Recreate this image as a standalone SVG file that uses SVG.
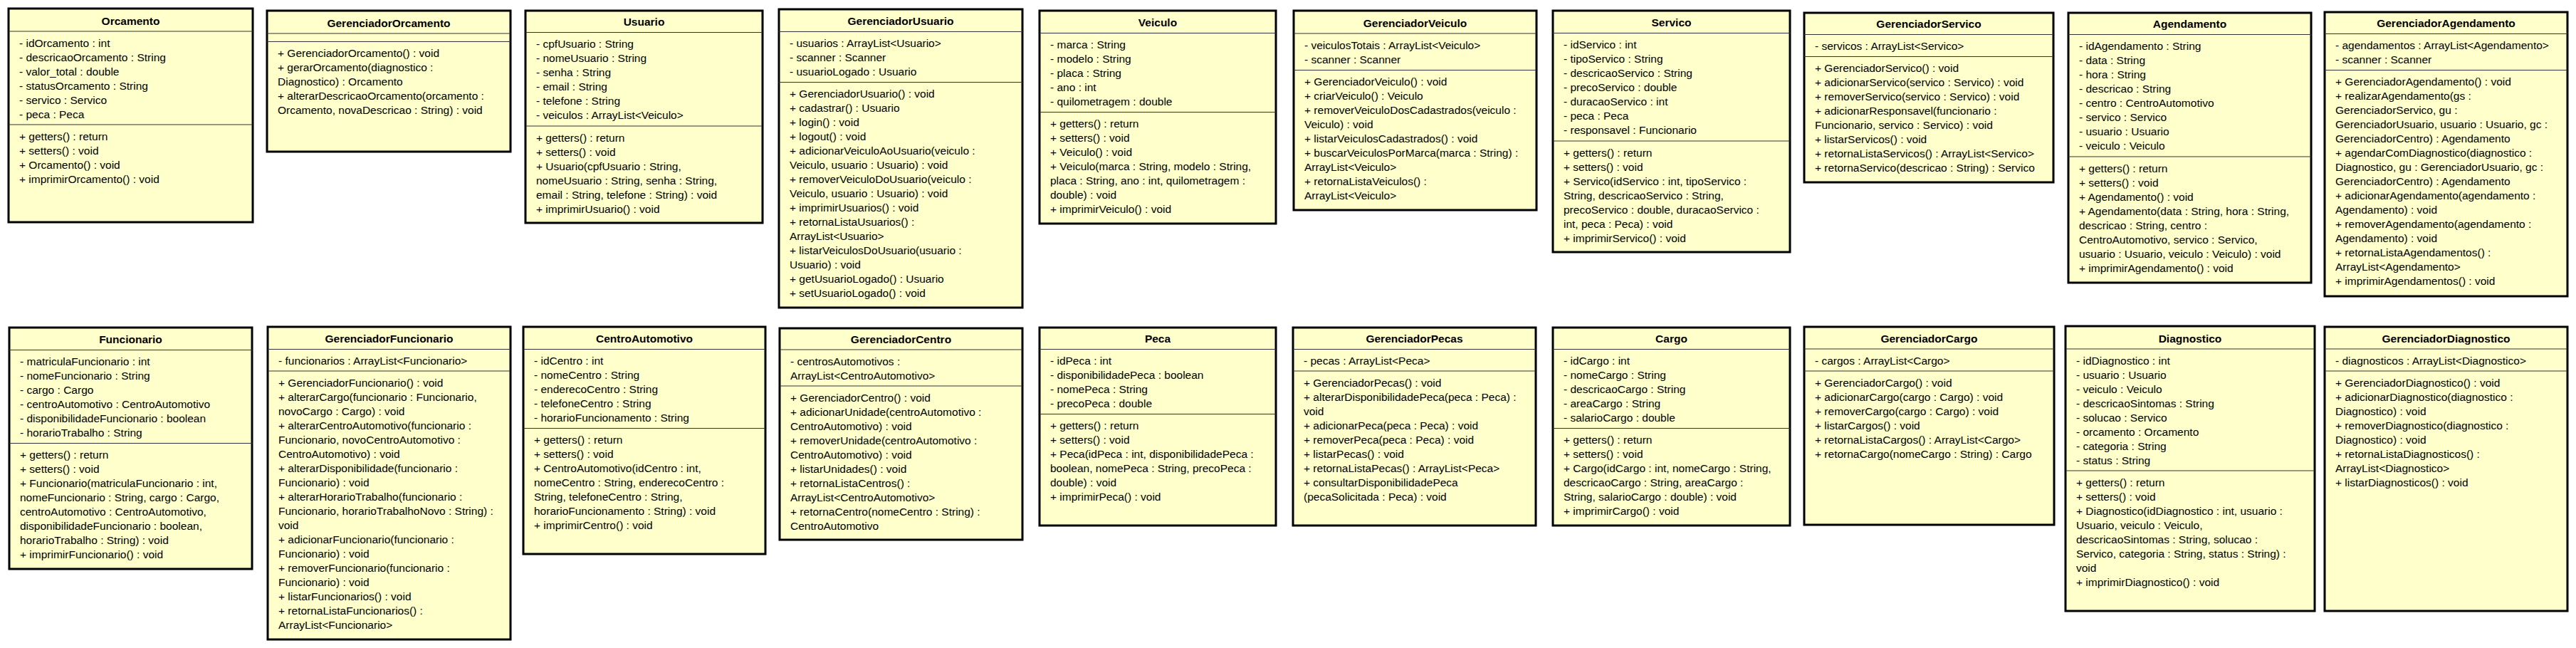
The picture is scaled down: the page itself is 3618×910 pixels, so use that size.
<svg xmlns="http://www.w3.org/2000/svg" width="3618" height="910" viewBox="0 0 3618 910">
<style>
.box{fill:#FFFFCC;stroke:#000;stroke-width:3}
.sep{stroke:#333;stroke-width:1}
text{font-family:"Liberation Sans",Arial,sans-serif;font-size:15.5px;fill:#000}
.h{font-weight:bold;text-anchor:middle}
</style>
<rect x="0" y="0" width="3618" height="910" fill="#FFFFFF"/>
<g id="connectors"></g>

<g id="Orcamento" transform="translate(12,0)">
<rect class="box" x="0" y="12" width="343" height="300"/>
<line class="sep" x1="0" y1="44" x2="343" y2="44"/><line class="sep" x1="0" y1="175" x2="343" y2="175"/>
<text class="h" x="171.5" y="34.5">Orcamento</text>
<text y="65.5"><tspan x="15">- idOrcamento : int</tspan><tspan x="15" dy="20">- descricaoOrcamento : String</tspan><tspan x="15" dy="20">- valor_total : double</tspan><tspan x="15" dy="20">- statusOrcamento : String</tspan><tspan x="15" dy="20">- servico : Servico</tspan><tspan x="15" dy="20">- peca : Peca</tspan></text>
<text y="196.5"><tspan x="15">+ getters() : return</tspan><tspan x="15" dy="20">+ setters() : void</tspan><tspan x="15" dy="20">+ Orcamento() : void</tspan><tspan x="15" dy="20">+ imprimirOrcamento() : void</tspan></text>
</g>

<g id="GerenciadorOrcamento" transform="translate(375,0)">
<rect class="box" x="0" y="15" width="342" height="198"/>
<line class="sep" x1="0" y1="47" x2="342" y2="47"/><line class="sep" x1="0" y1="58.5" x2="342" y2="58.5"/>
<text class="h" x="171" y="37.5">GerenciadorOrcamento</text>
<text y="80"><tspan x="15">+ GerenciadorOrcamento() : void</tspan><tspan x="15" dy="20">+ gerarOrcamento(diagnostico :</tspan><tspan x="15" dy="20">Diagnostico) : Orcamento</tspan><tspan x="15" dy="20">+ alterarDescricaoOrcamento(orcamento :</tspan><tspan x="15" dy="20">Orcamento, novaDescricao : String) : void</tspan></text>
</g>

<g id="Usuario" transform="translate(738,0)">
<rect class="box" x="0" y="15" width="333" height="298"/>
<line class="sep" x1="0" y1="45.5" x2="333" y2="45.5"/><line class="sep" x1="0" y1="177" x2="333" y2="177"/>
<text class="h" x="166.5" y="36">Usuario</text>
<text y="67"><tspan x="15">- cpfUsuario : String</tspan><tspan x="15" dy="20">- nomeUsuario : String</tspan><tspan x="15" dy="20">- senha : String</tspan><tspan x="15" dy="20">- email : String</tspan><tspan x="15" dy="20">- telefone : String</tspan><tspan x="15" dy="20">- veiculos : ArrayList&lt;Veiculo&gt;</tspan></text>
<text y="198.5"><tspan x="15">+ getters() : return</tspan><tspan x="15" dy="20">+ setters() : void</tspan><tspan x="15" dy="20">+ Usuario(cpfUsuario : String,</tspan><tspan x="15" dy="20">nomeUsuario : String, senha : String,</tspan><tspan x="15" dy="20">email : String, telefone : String) : void</tspan><tspan x="15" dy="20">+ imprimirUsuario() : void</tspan></text>
</g>

<g id="GerenciadorUsuario" transform="translate(1094,0)">
<rect class="box" x="0" y="13" width="342" height="419"/>
<line class="sep" x1="0" y1="44.5" x2="342" y2="44.5"/><line class="sep" x1="0" y1="115.5" x2="342" y2="115.5"/>
<text class="h" x="171" y="35">GerenciadorUsuario</text>
<text y="66"><tspan x="15">- usuarios : ArrayList&lt;Usuario&gt;</tspan><tspan x="15" dy="20">- scanner : Scanner</tspan><tspan x="15" dy="20">- usuarioLogado : Usuario</tspan></text>
<text y="137"><tspan x="15">+ GerenciadorUsuario() : void</tspan><tspan x="15" dy="20">+ cadastrar() : Usuario</tspan><tspan x="15" dy="20">+ login() : void</tspan><tspan x="15" dy="20">+ logout() : void</tspan><tspan x="15" dy="20">+ adicionarVeiculoAoUsuario(veiculo :</tspan><tspan x="15" dy="20">Veiculo, usuario : Usuario) : void</tspan><tspan x="15" dy="20">+ removerVeiculoDoUsuario(veiculo :</tspan><tspan x="15" dy="20">Veiculo, usuario : Usuario) : void</tspan><tspan x="15" dy="20">+ imprimirUsuarios() : void</tspan><tspan x="15" dy="20">+ retornaListaUsuarios() :</tspan><tspan x="15" dy="20">ArrayList&lt;Usuario&gt;</tspan><tspan x="15" dy="20">+ listarVeiculosDoUsuario(usuario :</tspan><tspan x="15" dy="20">Usuario) : void</tspan><tspan x="15" dy="20">+ getUsuarioLogado() : Usuario</tspan><tspan x="15" dy="20">+ setUsuarioLogado() : void</tspan></text>
</g>

<g id="Veiculo" transform="translate(1460,0)">
<rect class="box" x="0" y="15" width="332" height="299"/>
<line class="sep" x1="0" y1="46.5" x2="332" y2="46.5"/><line class="sep" x1="0" y1="157.5" x2="332" y2="157.5"/>
<text class="h" x="166" y="37">Veiculo</text>
<text y="68"><tspan x="15">- marca : String</tspan><tspan x="15" dy="20">- modelo : String</tspan><tspan x="15" dy="20">- placa : String</tspan><tspan x="15" dy="20">- ano : int</tspan><tspan x="15" dy="20">- quilometragem : double</tspan></text>
<text y="179"><tspan x="15">+ getters() : return</tspan><tspan x="15" dy="20">+ setters() : void</tspan><tspan x="15" dy="20">+ Veiculo() : void</tspan><tspan x="15" dy="20">+ Veiculo(marca : String, modelo : String,</tspan><tspan x="15" dy="20">placa : String, ano : int, quilometragem :</tspan><tspan x="15" dy="20">double) : void</tspan><tspan x="15" dy="20">+ imprimirVeiculo() : void</tspan></text>
</g>

<g id="GerenciadorVeiculo" transform="translate(1817,0)">
<rect class="box" x="0" y="15" width="341" height="280"/>
<line class="sep" x1="0" y1="47" x2="341" y2="47"/><line class="sep" x1="0" y1="98.5" x2="341" y2="98.5"/>
<text class="h" x="170.5" y="37.5">GerenciadorVeiculo</text>
<text y="68.5"><tspan x="15">- veiculosTotais : ArrayList&lt;Veiculo&gt;</tspan><tspan x="15" dy="20">- scanner : Scanner</tspan></text>
<text y="120"><tspan x="15">+ GerenciadorVeiculo() : void</tspan><tspan x="15" dy="20">+ criarVeiculo() : Veiculo</tspan><tspan x="15" dy="20">+ removerVeiculoDosCadastrados(veiculo :</tspan><tspan x="15" dy="20">Veiculo) : void</tspan><tspan x="15" dy="20">+ listarVeiculosCadastrados() : void</tspan><tspan x="15" dy="20">+ buscarVeiculosPorMarca(marca : String) :</tspan><tspan x="15" dy="20">ArrayList&lt;Veiculo&gt;</tspan><tspan x="15" dy="20">+ retornaListaVeiculos() :</tspan><tspan x="15" dy="20">ArrayList&lt;Veiculo&gt;</tspan></text>
</g>

<g id="Servico" transform="translate(2181,0)">
<rect class="box" x="0" y="15" width="333" height="339"/>
<line class="sep" x1="0" y1="46.5" x2="333" y2="46.5"/><line class="sep" x1="0" y1="198" x2="333" y2="198"/>
<text class="h" x="166.5" y="37">Servico</text>
<text y="68"><tspan x="15">- idServico : int</tspan><tspan x="15" dy="20">- tipoServico : String</tspan><tspan x="15" dy="20">- descricaoServico : String</tspan><tspan x="15" dy="20">- precoServico : double</tspan><tspan x="15" dy="20">- duracaoServico : int</tspan><tspan x="15" dy="20">- peca : Peca</tspan><tspan x="15" dy="20">- responsavel : Funcionario</tspan></text>
<text y="219.5"><tspan x="15">+ getters() : return</tspan><tspan x="15" dy="20">+ setters() : void</tspan><tspan x="15" dy="20">+ Servico(idServico : int, tipoServico :</tspan><tspan x="15" dy="20">String, descricaoServico : String,</tspan><tspan x="15" dy="20">precoServico : double, duracaoServico :</tspan><tspan x="15" dy="20">int, peca : Peca) : void</tspan><tspan x="15" dy="20">+ imprimirServico() : void</tspan></text>
</g>

<g id="GerenciadorServico" transform="translate(2534,0)">
<rect class="box" x="0" y="18" width="350" height="238"/>
<line class="sep" x1="0" y1="48.5" x2="350" y2="48.5"/><line class="sep" x1="0" y1="79.5" x2="350" y2="79.5"/>
<text class="h" x="175" y="39">GerenciadorServico</text>
<text y="70"><tspan x="15">- servicos : ArrayList&lt;Servico&gt;</tspan></text>
<text y="101"><tspan x="15">+ GerenciadorServico() : void</tspan><tspan x="15" dy="20">+ adicionarServico(servico : Servico) : void</tspan><tspan x="15" dy="20">+ removerServico(servico : Servico) : void</tspan><tspan x="15" dy="20">+ adicionarResponsavel(funcionario :</tspan><tspan x="15" dy="20">Funcionario, servico : Servico) : void</tspan><tspan x="15" dy="20">+ listarServicos() : void</tspan><tspan x="15" dy="20">+ retornaListaServicos() : ArrayList&lt;Servico&gt;</tspan><tspan x="15" dy="20">+ retornaServico(descricao : String) : Servico</tspan></text>
</g>

<g id="Agendamento" transform="translate(2905,0)">
<rect class="box" x="0" y="18" width="341" height="379"/>
<line class="sep" x1="0" y1="48.5" x2="341" y2="48.5"/><line class="sep" x1="0" y1="220" x2="341" y2="220"/>
<text class="h" x="170.5" y="39">Agendamento</text>
<text y="70"><tspan x="15">- idAgendamento : String</tspan><tspan x="15" dy="20">- data : String</tspan><tspan x="15" dy="20">- hora : String</tspan><tspan x="15" dy="20">- descricao : String</tspan><tspan x="15" dy="20">- centro : CentroAutomotivo</tspan><tspan x="15" dy="20">- servico : Servico</tspan><tspan x="15" dy="20">- usuario : Usuario</tspan><tspan x="15" dy="20">- veiculo : Veiculo</tspan></text>
<text y="241.5"><tspan x="15">+ getters() : return</tspan><tspan x="15" dy="20">+ setters() : void</tspan><tspan x="15" dy="20">+ Agendamento() : void</tspan><tspan x="15" dy="20">+ Agendamento(data : String, hora : String,</tspan><tspan x="15" dy="20">descricao : String, centro :</tspan><tspan x="15" dy="20">CentroAutomotivo, servico : Servico,</tspan><tspan x="15" dy="20">usuario : Usuario, veiculo : Veiculo) : void</tspan><tspan x="15" dy="20">+ imprimirAgendamento() : void</tspan></text>
</g>

<g id="GerenciadorAgendamento" transform="translate(3265,0)">
<rect class="box" x="0" y="17" width="341" height="399"/>
<line class="sep" x1="0" y1="47.5" x2="341" y2="47.5"/><line class="sep" x1="0" y1="98.5" x2="341" y2="98.5"/>
<text class="h" x="170.5" y="38">GerenciadorAgendamento</text>
<text y="69"><tspan x="15">- agendamentos : ArrayList&lt;Agendamento&gt;</tspan><tspan x="15" dy="20">- scanner : Scanner</tspan></text>
<text y="120"><tspan x="15">+ GerenciadorAgendamento() : void</tspan><tspan x="15" dy="20">+ realizarAgendamento(gs :</tspan><tspan x="15" dy="20">GerenciadorServico, gu :</tspan><tspan x="15" dy="20">GerenciadorUsuario, usuario : Usuario, gc :</tspan><tspan x="15" dy="20">GerenciadorCentro) : Agendamento</tspan><tspan x="15" dy="20">+ agendarComDiagnostico(diagnostico :</tspan><tspan x="15" dy="20">Diagnostico, gu : GerenciadorUsuario, gc :</tspan><tspan x="15" dy="20">GerenciadorCentro) : Agendamento</tspan><tspan x="15" dy="20">+ adicionarAgendamento(agendamento :</tspan><tspan x="15" dy="20">Agendamento) : void</tspan><tspan x="15" dy="20">+ removerAgendamento(agendamento :</tspan><tspan x="15" dy="20">Agendamento) : void</tspan><tspan x="15" dy="20">+ retornaListaAgendamentos() :</tspan><tspan x="15" dy="20">ArrayList&lt;Agendamento&gt;</tspan><tspan x="15" dy="20">+ imprimirAgendamentos() : void</tspan></text>
</g>

<g id="Funcionario" transform="translate(13,0)">
<rect class="box" x="0" y="460" width="341" height="339"/>
<line class="sep" x1="0" y1="491.5" x2="341" y2="491.5"/><line class="sep" x1="0" y1="622.5" x2="341" y2="622.5"/>
<text class="h" x="170.5" y="482">Funcionario</text>
<text y="513"><tspan x="15">- matriculaFuncionario : int</tspan><tspan x="15" dy="20">- nomeFuncionario : String</tspan><tspan x="15" dy="20">- cargo : Cargo</tspan><tspan x="15" dy="20">- centroAutomotivo : CentroAutomotivo</tspan><tspan x="15" dy="20">- disponibilidadeFuncionario : boolean</tspan><tspan x="15" dy="20">- horarioTrabalho : String</tspan></text>
<text y="644"><tspan x="15">+ getters() : return</tspan><tspan x="15" dy="20">+ setters() : void</tspan><tspan x="15" dy="20">+ Funcionario(matriculaFuncionario : int,</tspan><tspan x="15" dy="20">nomeFuncionario : String, cargo : Cargo,</tspan><tspan x="15" dy="20">centroAutomotivo : CentroAutomotivo,</tspan><tspan x="15" dy="20">disponibilidadeFuncionario : boolean,</tspan><tspan x="15" dy="20">horarioTrabalho : String) : void</tspan><tspan x="15" dy="20">+ imprimirFuncionario() : void</tspan></text>
</g>

<g id="GerenciadorFuncionario" transform="translate(376,0)">
<rect class="box" x="0" y="459" width="341" height="439"/>
<line class="sep" x1="0" y1="490.5" x2="341" y2="490.5"/><line class="sep" x1="0" y1="521" x2="341" y2="521"/>
<text class="h" x="170.5" y="481">GerenciadorFuncionario</text>
<text y="512"><tspan x="15">- funcionarios : ArrayList&lt;Funcionario&gt;</tspan></text>
<text y="542.5"><tspan x="15">+ GerenciadorFuncionario() : void</tspan><tspan x="15" dy="20">+ alterarCargo(funcionario : Funcionario,</tspan><tspan x="15" dy="20">novoCargo : Cargo) : void</tspan><tspan x="15" dy="20">+ alterarCentroAutomotivo(funcionario :</tspan><tspan x="15" dy="20">Funcionario, novoCentroAutomotivo :</tspan><tspan x="15" dy="20">CentroAutomotivo) : void</tspan><tspan x="15" dy="20">+ alterarDisponibilidade(funcionario :</tspan><tspan x="15" dy="20">Funcionario) : void</tspan><tspan x="15" dy="20">+ alterarHorarioTrabalho(funcionario :</tspan><tspan x="15" dy="20">Funcionario, horarioTrabalhoNovo : String) :</tspan><tspan x="15" dy="20">void</tspan><tspan x="15" dy="20">+ adicionarFuncionario(funcionario :</tspan><tspan x="15" dy="20">Funcionario) : void</tspan><tspan x="15" dy="20">+ removerFuncionario(funcionario :</tspan><tspan x="15" dy="20">Funcionario) : void</tspan><tspan x="15" dy="20">+ listarFuncionarios() : void</tspan><tspan x="15" dy="20">+ retornaListaFuncionarios() :</tspan><tspan x="15" dy="20">ArrayList&lt;Funcionario&gt;</tspan></text>
</g>

<g id="CentroAutomotivo" transform="translate(735,0)">
<rect class="box" x="0" y="459" width="340" height="319"/>
<line class="sep" x1="0" y1="490.5" x2="340" y2="490.5"/><line class="sep" x1="0" y1="601.5" x2="340" y2="601.5"/>
<text class="h" x="170" y="481">CentroAutomotivo</text>
<text y="512"><tspan x="15">- idCentro : int</tspan><tspan x="15" dy="20">- nomeCentro : String</tspan><tspan x="15" dy="20">- enderecoCentro : String</tspan><tspan x="15" dy="20">- telefoneCentro : String</tspan><tspan x="15" dy="20">- horarioFuncionamento : String</tspan></text>
<text y="623"><tspan x="15">+ getters() : return</tspan><tspan x="15" dy="20">+ setters() : void</tspan><tspan x="15" dy="20">+ CentroAutomotivo(idCentro : int,</tspan><tspan x="15" dy="20">nomeCentro : String, enderecoCentro :</tspan><tspan x="15" dy="20">String, telefoneCentro : String,</tspan><tspan x="15" dy="20">horarioFuncionamento : String) : void</tspan><tspan x="15" dy="20">+ imprimirCentro() : void</tspan></text>
</g>

<g id="GerenciadorCentro" transform="translate(1095,0)">
<rect class="box" x="0" y="461" width="341" height="297"/>
<line class="sep" x1="0" y1="491" x2="341" y2="491"/><line class="sep" x1="0" y1="542" x2="341" y2="542"/>
<text class="h" x="170.5" y="481.5">GerenciadorCentro</text>
<text y="512.5"><tspan x="15">- centrosAutomotivos :</tspan><tspan x="15" dy="20">ArrayList&lt;CentroAutomotivo&gt;</tspan></text>
<text y="563.5"><tspan x="15">+ GerenciadorCentro() : void</tspan><tspan x="15" dy="20">+ adicionarUnidade(centroAutomotivo :</tspan><tspan x="15" dy="20">CentroAutomotivo) : void</tspan><tspan x="15" dy="20">+ removerUnidade(centroAutomotivo :</tspan><tspan x="15" dy="20">CentroAutomotivo) : void</tspan><tspan x="15" dy="20">+ listarUnidades() : void</tspan><tspan x="15" dy="20">+ retornaListaCentros() :</tspan><tspan x="15" dy="20">ArrayList&lt;CentroAutomotivo&gt;</tspan><tspan x="15" dy="20">+ retornaCentro(nomeCentro : String) :</tspan><tspan x="15" dy="20">CentroAutomotivo</tspan></text>
</g>

<g id="Peca" transform="translate(1460,0)">
<rect class="box" x="0" y="460" width="332" height="278"/>
<line class="sep" x1="0" y1="490.5" x2="332" y2="490.5"/><line class="sep" x1="0" y1="581.5" x2="332" y2="581.5"/>
<text class="h" x="166" y="481">Peca</text>
<text y="512"><tspan x="15">- idPeca : int</tspan><tspan x="15" dy="20">- disponibilidadePeca : boolean</tspan><tspan x="15" dy="20">- nomePeca : String</tspan><tspan x="15" dy="20">- precoPeca : double</tspan></text>
<text y="603"><tspan x="15">+ getters() : return</tspan><tspan x="15" dy="20">+ setters() : void</tspan><tspan x="15" dy="20">+ Peca(idPeca : int, disponibilidadePeca :</tspan><tspan x="15" dy="20">boolean, nomePeca : String, precoPeca :</tspan><tspan x="15" dy="20">double) : void</tspan><tspan x="15" dy="20">+ imprimirPeca() : void</tspan></text>
</g>

<g id="GerenciadorPecas" transform="translate(1816,0)">
<rect class="box" x="0" y="460" width="341" height="278"/>
<line class="sep" x1="0" y1="490.5" x2="341" y2="490.5"/><line class="sep" x1="0" y1="521" x2="341" y2="521"/>
<text class="h" x="170.5" y="481">GerenciadorPecas</text>
<text y="512"><tspan x="15">- pecas : ArrayList&lt;Peca&gt;</tspan></text>
<text y="542.5"><tspan x="15">+ GerenciadorPecas() : void</tspan><tspan x="15" dy="20">+ alterarDisponibilidadePeca(peca : Peca) :</tspan><tspan x="15" dy="20">void</tspan><tspan x="15" dy="20">+ adicionarPeca(peca : Peca) : void</tspan><tspan x="15" dy="20">+ removerPeca(peca : Peca) : void</tspan><tspan x="15" dy="20">+ listarPecas() : void</tspan><tspan x="15" dy="20">+ retornaListaPecas() : ArrayList&lt;Peca&gt;</tspan><tspan x="15" dy="20">+ consultarDisponibilidadePeca</tspan><tspan x="15" dy="20">(pecaSolicitada : Peca) : void</tspan></text>
</g>

<g id="Cargo" transform="translate(2181,0)">
<rect class="box" x="0" y="460" width="333" height="278"/>
<line class="sep" x1="0" y1="490.5" x2="333" y2="490.5"/><line class="sep" x1="0" y1="601.5" x2="333" y2="601.5"/>
<text class="h" x="166.5" y="481">Cargo</text>
<text y="512"><tspan x="15">- idCargo : int</tspan><tspan x="15" dy="20">- nomeCargo : String</tspan><tspan x="15" dy="20">- descricaoCargo : String</tspan><tspan x="15" dy="20">- areaCargo : String</tspan><tspan x="15" dy="20">- salarioCargo : double</tspan></text>
<text y="623"><tspan x="15">+ getters() : return</tspan><tspan x="15" dy="20">+ setters() : void</tspan><tspan x="15" dy="20">+ Cargo(idCargo : int, nomeCargo : String,</tspan><tspan x="15" dy="20">descricaoCargo : String, areaCargo :</tspan><tspan x="15" dy="20">String, salarioCargo : double) : void</tspan><tspan x="15" dy="20">+ imprimirCargo() : void</tspan></text>
</g>

<g id="GerenciadorCargo" transform="translate(2534,0)">
<rect class="box" x="0" y="459" width="351" height="278"/>
<line class="sep" x1="0" y1="490" x2="351" y2="490"/><line class="sep" x1="0" y1="521" x2="351" y2="521"/>
<text class="h" x="175.5" y="480.5">GerenciadorCargo</text>
<text y="511.5"><tspan x="15">- cargos : ArrayList&lt;Cargo&gt;</tspan></text>
<text y="542.5"><tspan x="15">+ GerenciadorCargo() : void</tspan><tspan x="15" dy="20">+ adicionarCargo(cargo : Cargo) : void</tspan><tspan x="15" dy="20">+ removerCargo(cargo : Cargo) : void</tspan><tspan x="15" dy="20">+ listarCargos() : void</tspan><tspan x="15" dy="20">+ retornaListaCargos() : ArrayList&lt;Cargo&gt;</tspan><tspan x="15" dy="20">+ retornaCargo(nomeCargo : String) : Cargo</tspan></text>
</g>

<g id="Diagnostico" transform="translate(2901,0)">
<rect class="box" x="0" y="458" width="350" height="400"/>
<line class="sep" x1="0" y1="490" x2="350" y2="490"/><line class="sep" x1="0" y1="661" x2="350" y2="661"/>
<text class="h" x="175" y="480.5">Diagnostico</text>
<text y="511.5"><tspan x="15">- idDiagnostico : int</tspan><tspan x="15" dy="20">- usuario : Usuario</tspan><tspan x="15" dy="20">- veiculo : Veiculo</tspan><tspan x="15" dy="20">- descricaoSintomas : String</tspan><tspan x="15" dy="20">- solucao : Servico</tspan><tspan x="15" dy="20">- orcamento : Orcamento</tspan><tspan x="15" dy="20">- categoria : String</tspan><tspan x="15" dy="20">- status : String</tspan></text>
<text y="682.5"><tspan x="15">+ getters() : return</tspan><tspan x="15" dy="20">+ setters() : void</tspan><tspan x="15" dy="20">+ Diagnostico(idDiagnostico : int, usuario :</tspan><tspan x="15" dy="20">Usuario, veiculo : Veiculo,</tspan><tspan x="15" dy="20">descricaoSintomas : String, solucao :</tspan><tspan x="15" dy="20">Servico, categoria : String, status : String) :</tspan><tspan x="15" dy="20">void</tspan><tspan x="15" dy="20">+ imprimirDiagnostico() : void</tspan></text>
</g>

<g id="GerenciadorDiagnostico" transform="translate(3265,0)">
<rect class="box" x="0" y="459" width="341" height="399"/>
<line class="sep" x1="0" y1="490" x2="341" y2="490"/><line class="sep" x1="0" y1="521" x2="341" y2="521"/>
<text class="h" x="170.5" y="480.5">GerenciadorDiagnostico</text>
<text y="511.5"><tspan x="15">- diagnosticos : ArrayList&lt;Diagnostico&gt;</tspan></text>
<text y="542.5"><tspan x="15">+ GerenciadorDiagnostico() : void</tspan><tspan x="15" dy="20">+ adicionarDiagnostico(diagnostico :</tspan><tspan x="15" dy="20">Diagnostico) : void</tspan><tspan x="15" dy="20">+ removerDiagnostico(diagnostico :</tspan><tspan x="15" dy="20">Diagnostico) : void</tspan><tspan x="15" dy="20">+ retornaListaDiagnosticos() :</tspan><tspan x="15" dy="20">ArrayList&lt;Diagnostico&gt;</tspan><tspan x="15" dy="20">+ listarDiagnosticos() : void</tspan></text>
</g>
</svg>
